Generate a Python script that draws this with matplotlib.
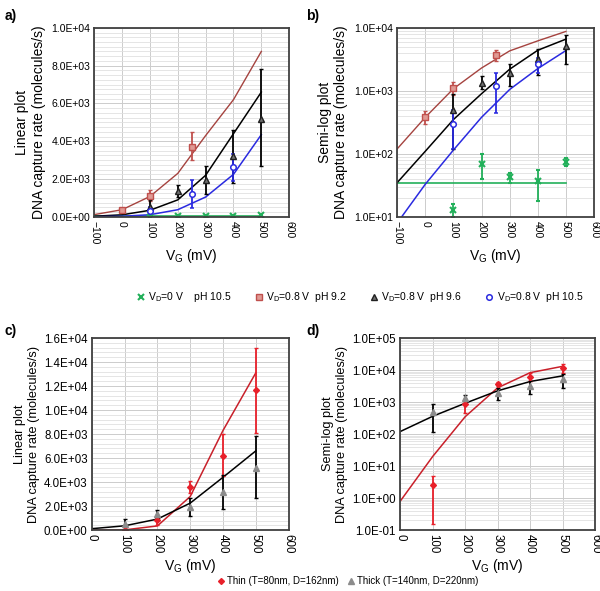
import numpy as np
import matplotlib.pyplot as plt
from matplotlib.ticker import FuncFormatter, MultipleLocator, LogLocator, NullFormatter

plt.rcParams['font.family'] = ['Liberation Sans', 'DejaVu Sans']

# ---- data, panels a/b ----
x_fit = [-100, 0, 100, 200, 300, 400, 500]

x_g = [100, 200, 300, 400, 500]          # VD=0 V pH 10.5
y_g = [13, 70, 43, 37, 75]
lo_g = [10, 40, 35, 18, 65]
hi_g = [16, 100, 50, 55, 85]
fit_g = [35, 35, 35, 35, 35, 35, 35]

x_r = [0, 100, 250]                       # VD=0.8 V pH 9.2
y_r = [380, 1100, 3700]
lo_r = [300, 850, 3000]
hi_r = [470, 1400, 4500]
fit_r = [120, 380, 1080, 2300, 4300, 6200, 8750]

x_k = [100, 200, 300, 400, 500]          # VD=0.8 V pH 9.6
y_k = [500, 1350, 1950, 3200, 5200]
lo_k = [120, 1050, 1200, 1800, 2700]
hi_k = [900, 1700, 2700, 4600, 7800]
fit_k = [35, 110, 350, 900, 2200, 4400, 6600]

x_b = [100, 250, 400]                     # VD=0.8 V pH 10.5
y_b = [300, 1200, 2650]
lo_b = [120, 450, 1900]
hi_b = [500, 1950, 3300]
fit_b = [8, 33, 115, 380, 1050, 2250, 4350]

# ---- data, panels c/d ----
x_fit2 = [0, 100, 200, 300, 400, 500]
x_thin = [100, 200, 300, 400, 500]
y_thin = [2.5, 850, 3600, 6200, 11700]
lo_thin = [0.15, 450, 3100, 4500, 8100]
hi_thin = [5, 1250, 4100, 8000, 15200]
fit_thin = [0.8, 20, 350, 2800, 8300, 13100]
fit_thick = [120, 360, 920, 2250, 4400, 6600]

c_green = '#22b05a'
c_red = '#c0504d'
c_brown = '#a5433f'
c_blue = '#2a2ae0'
c_thin = '#e8202a'
c_thinline = '#c8202a'
c_thick = '#8c8c8c'

sci = FuncFormatter(lambda v, p: f"{v:.1E}")

fig = plt.figure(figsize=(6, 5.91), dpi=100)


def style(ax, log, xmin, ymin, ymax, ystep=None, yminor=None, fs=7.5):
    ax.set_xlim(xmin, 600)
    ax.set_ylim(ymin, ymax)
    ax.xaxis.set_major_locator(MultipleLocator(100))
    ax.tick_params(axis='x', labelrotation=-90, labelsize=fs, length=0, pad=3)
    ax.tick_params(axis='y', labelsize=fs, length=0, pad=3)
    ax.tick_params(which='minor', length=0)
    if log:
        ax.set_yscale('log')
        ax.yaxis.set_major_locator(LogLocator(base=10, numticks=20))
        ax.yaxis.set_minor_locator(LogLocator(base=10, subs=np.arange(2, 10), numticks=20))
        ax.yaxis.set_minor_formatter(NullFormatter())
    else:
        ax.yaxis.set_major_locator(MultipleLocator(ystep))
        ax.yaxis.set_minor_locator(MultipleLocator(yminor))
    ax.yaxis.set_major_formatter(sci)
    ax.grid(True, which='major', color='#cccccc', lw=0.7)
    ax.grid(True, which='minor', axis='y', color='#e0e0e0', lw=0.6)
    ax.set_axisbelow(True)
    for s in ax.spines.values():
        s.set_color('#404040')
        s.set_linewidth(1.3)
    ax.set_xlabel('V$_\\mathregular{G}$ (mV)', fontsize=10, labelpad=2)


def errs(y, lo, hi):
    return [np.array(y) - np.array(lo), np.array(hi) - np.array(y)]


def draw_ab(ax):
    ax.plot(x_fit, fit_g, color=c_green, lw=1.2)
    ax.plot(x_fit, fit_r, color=c_brown, lw=1.0)
    ax.plot(x_fit, fit_k, color='black', lw=1.1)
    ax.plot(x_fit, fit_b, color=c_blue, lw=1.1)
    ax.errorbar(x_g, y_g, yerr=errs(y_g, lo_g, hi_g), fmt='x', color=c_green, ms=4.5, mew=1.5,
                elinewidth=1.3, capsize=1.2, label='V$_\\mathregular{D}$=0 V    pH 10.5')
    ax.errorbar(x_r, y_r, yerr=errs(y_r, lo_r, hi_r), fmt='s', color=c_red, mfc='#e09a94',
                mec=c_red, ms=5, elinewidth=1.3, capsize=1.2,
                label='V$_\\mathregular{D}$=0.8 V  pH 9.2')
    ax.errorbar(x_k, y_k, yerr=errs(y_k, lo_k, hi_k), fmt='^', color='black', mfc='#707070',
                mec='#202020', ms=4.5, elinewidth=1.3, capsize=1.2,
                label='V$_\\mathregular{D}$=0.8 V  pH 9.6')
    ax.errorbar(x_b, y_b, yerr=errs(y_b, lo_b, hi_b), fmt='o', color=c_blue, mfc='white',
                mec=c_blue, ms=4, mew=1.1, elinewidth=1.3, capsize=1.2,
                label='V$_\\mathregular{D}$=0.8 V  pH 10.5')


def draw_cd(ax):
    ax.plot(x_fit2, fit_thin, color=c_thinline, lw=1.1)
    ax.plot(x_fit2, fit_thick, color='black', lw=1.1)
    ax.errorbar(x_thin, y_thin, yerr=errs(y_thin, lo_thin, hi_thin), fmt='D', color=c_thin,
                ms=3, elinewidth=1.3, capsize=1.2, label='Thin (T=80nm, D=162nm)')
    ax.errorbar(x_k, y_k, yerr=errs(y_k, lo_k, hi_k), fmt='^', color='black', mfc=c_thick,
                mec=c_thick, ms=4.5, elinewidth=1.3, capsize=1.2, label='Thick (T=140nm, D=220nm)')


ylab_lin = 'Linear plot\nDNA capture rate (molecules/s)'
ylab_log = 'Semi-log plot\nDNA capture rate (molecules/s)'

ax_a = fig.add_axes([0.157, 0.633, 0.325, 0.320])
draw_ab(ax_a)
style(ax_a, False, -100, 0, 10000, 2000, 250)
ax_a.set_ylabel(ylab_lin, fontsize=10, labelpad=4)

ax_b = fig.add_axes([0.662, 0.633, 0.328, 0.320])
draw_ab(ax_b)
style(ax_b, True, -100, 10, 10000)
ax_b.set_ylabel(ylab_log, fontsize=10, labelpad=4)

ax_c = fig.add_axes([0.153, 0.103, 0.328, 0.325])
draw_cd(ax_c)
style(ax_c, False, 0, 0, 16000, 2000, 400, fs=8.3)
ax_c.set_ylabel(ylab_lin, fontsize=9.2, labelpad=3)

ax_d = fig.add_axes([0.667, 0.103, 0.325, 0.325])
draw_cd(ax_d)
style(ax_d, True, 0, 0.1, 100000, fs=8.3)
ax_d.set_ylabel(ylab_log, fontsize=9.2, labelpad=3)

h, l = ax_a.get_legend_handles_labels()
h = [hh[0] for hh in h]
fig.legend(h, l, loc='center', bbox_to_anchor=(0.60, 0.497), ncol=4, frameon=False,
           fontsize=7.5, handlelength=0.8, handletextpad=0.3, columnspacing=2.2)

h, l = ax_c.get_legend_handles_labels()
h = [hh[0] for hh in h]
fig.legend(h, l, loc='center', bbox_to_anchor=(0.58, 0.017), ncol=2, frameon=False,
           fontsize=7, handlelength=0.6, handletextpad=0.3, columnspacing=1.0)

for lab, x, y in [('a)', 0.008, 0.985), ('b)', 0.51, 0.985), ('c)', 0.008, 0.452), ('d)', 0.51, 0.452)]:
    fig.text(x, y, lab, fontsize=10, fontweight='bold', va='top')

fig.savefig('out.png', dpi=100)
